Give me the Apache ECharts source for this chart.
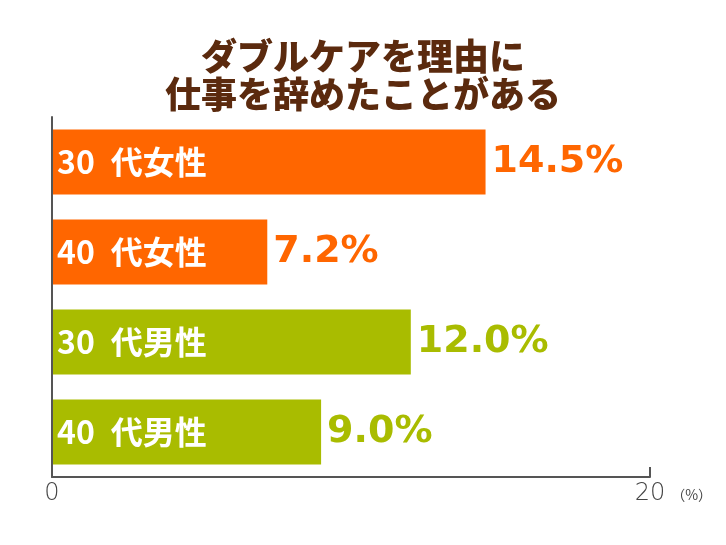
<!DOCTYPE html>
<html><head><meta charset="utf-8">
<script src="https://cdn.jsdelivr.net/npm/echarts@6/dist/echarts.min.js"></script>
<style>html,body{margin:0;padding:0;background:#fff}#c{width:726px;height:545px}</style>
</head><body><div id="c"></div>
<script>
const titleLines = ['ダブルケアを理由に', '仕事を辞めたことがある'];
const categories = ['30 代女性', '40 代女性', '30 代男性', '40 代男性'];
const values = [14.5, 7.2, 12.0, 9.0];
const barColors = ['#FF6600', '#FF6600', '#A9BC00', '#A9BC00'];
const axisTicks = [0, 20];
const unitLabel = '（%）';

const chart = echarts.init(document.getElementById('c'));
chart.setOption({
  animation: false,
  title: {
    text: titleLines.join('\n'),
    left: 'center', top: 32,
    textStyle: { fontFamily: 'Noto Sans CJK JP', fontWeight: 900, fontSize: 36, lineHeight: 38, color: '#5B2A0E' }
  },
  grid: { left: 52, right: 76, top: 117, bottom: 68 },
  xAxis: {
    type: 'value', min: axisTicks[0], max: axisTicks[1], interval: 20,
    splitLine: { show: false },
    axisLine: { show: true, lineStyle: { color: '#555', width: 2 } },
    axisTick: { show: true, inside: true, length: 10, lineStyle: { color: '#555', width: 2 } },
    axisLabel: { color: '#444', fontFamily: 'DejaVu Sans', fontWeight: 200, fontSize: 24, margin: 5 },
    name: unitLabel, nameLocation: 'end', nameGap: 20,
    nameTextStyle: { color: '#444', fontSize: 14, fontFamily: 'Noto Sans CJK JP', verticalAlign: 'top', padding: [11, 0, 0, 0] }
  },
  yAxis: {
    type: 'category', data: categories, inverse: true, z: 10,
    axisLine: { show: true, lineStyle: { color: '#555', width: 2 } },
    axisTick: { show: false },
    axisLabel: { inside: true, color: '#fff', fontFamily: 'Noto Sans CJK JP', fontWeight: 'bold', fontSize: 32, margin: 5,
      formatter: v => v.replace(' ', '\u2002') }
  },
  series: [{
    type: 'bar', barWidth: 65,
    data: values.map((v, i) => ({ value: v, itemStyle: { color: barColors[i] },
      label: { color: barColors[i] } })),
    label: {
      show: true, position: 'right', distance: 6,
      fontFamily: 'DejaVu Sans', fontWeight: 'bold', fontSize: 38,
      formatter: p => p.value.toFixed(1) + '%'
    }
  }]
});
</script></body></html>
